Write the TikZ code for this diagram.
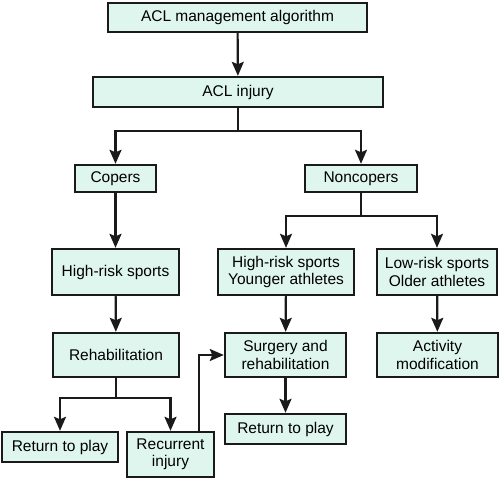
\documentclass[tikz,border=0pt]{standalone}
\usepackage{fontspec}
\setmainfont{Liberation Sans}
\usetikzlibrary{positioning,arrows.meta}
\definecolor{mint}{HTML}{DFF6EE}
\definecolor{edge}{HTML}{1A1A1A}

\tikzset{box/.style={draw=edge,fill=mint,line width=2.4pt,inner sep=0pt,align=center,font=\fontsize{15.5}{17.5}\selectfont},
  arr/.style={-{Stealth[length=14pt,width=12pt,inset=2.5pt]},edge,line width=2.2pt}}

\begin{document}
\begin{tikzpicture}[x=1pt,y=-1pt]
\useasboundingbox (0,0) rectangle (500,479);
\node[box,minimum width=259,minimum height=29] (alg) at (237.5,17.5){ACL management algorithm};
\node[box,minimum width=290,minimum height=30] (inj) at (238,92){ACL injury};
\node[box,minimum width=81,minimum height=27] (cop) at (115.5,178.5){Copers};
\node[box,minimum width=112,minimum height=27] (nco) at (361,178.5){Noncopers};
\node[box,minimum width=127,minimum height=46] (hrc) at (115.5,272){High-risk sports};
\node[box,minimum width=136,minimum height=46] (hry) at (286,272){High-risk sports\\Younger athletes};
\node[box,minimum width=120,minimum height=46] (lro) at (437,272){Low-risk sports\\Older athletes};
\node[box,minimum width=126,minimum height=44] (reh) at (116,355){Rehabilitation};
\node[box,minimum width=121,minimum height=44] (sur) at (285.5,355){Surgery and\\rehabilitation};
\node[box,minimum width=121,minimum height=44] (act) at (437.5,355){Activity\\modification};
\node[box,minimum width=116,minimum height=30] (rtp) at (60,447){Return to play};
\node[box,minimum width=87,minimum height=45] (rec) at (170.5,454.5){Recurrent\\injury};
\node[box,minimum width=121,minimum height=30] (rts) at (285.5,429){Return to play};
\draw[arr] (alg)--(inj);\draw[arr] (inj.south)--++(0,23)-|(cop);\draw[arr] (inj.south)--++(0,23)-|(nco);
\draw[arr] (cop)--(hrc);\draw[arr] (hrc)--(reh);\draw[arr] (nco.south)--++(0,23)-|(hry);\draw[arr] (nco.south)--++(0,23)-|(lro);
\draw[arr] (hry)--(sur);\draw[arr] (lro)--(act);\draw[arr] (sur)--(rts);
\draw[arr] (reh.south)--++(0,20)-|(rtp);\draw[arr] (reh.south)--++(0,20)-|(rec);
\draw[arr] ([xshift=28.5pt]rec.north)|-(sur);
\end{tikzpicture}
\end{document}
